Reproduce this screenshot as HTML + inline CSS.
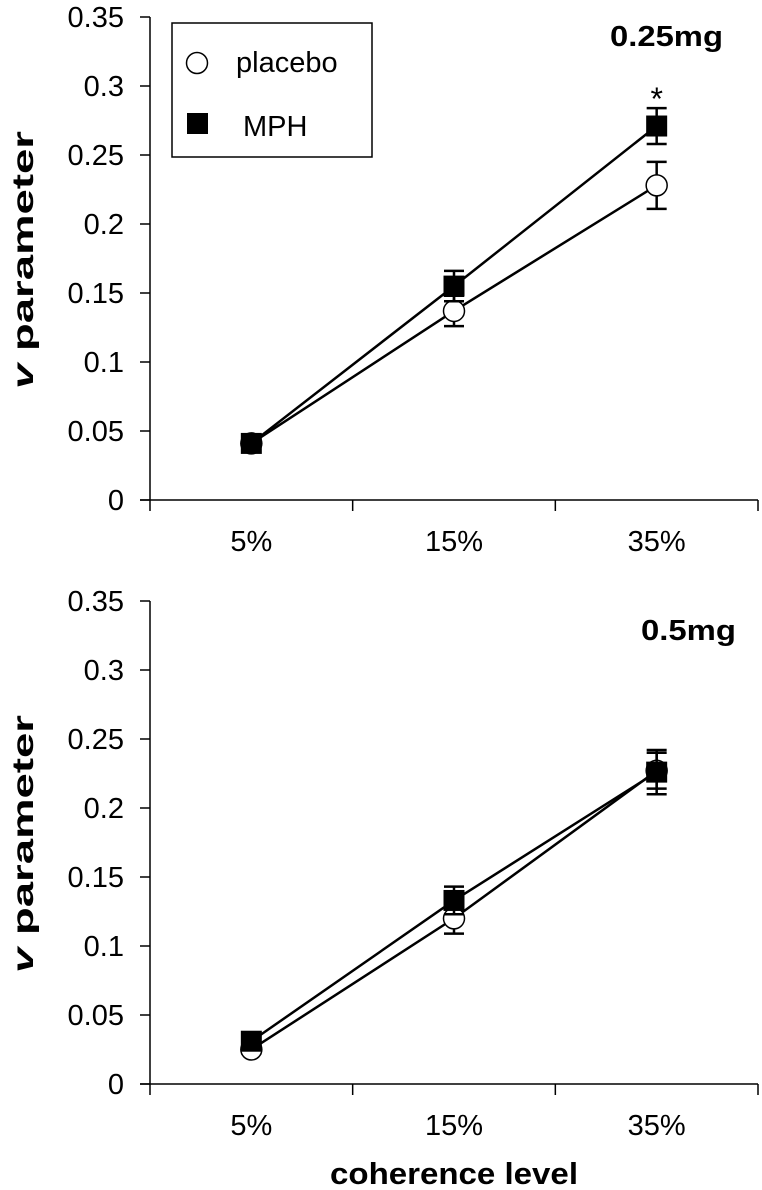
<!DOCTYPE html>
<html><head><meta charset="utf-8">
<style>
html,body{margin:0;padding:0;background:#fff;}
svg{display:block;font-family:"Liberation Sans",Arial,sans-serif;}
</style></head>
<body>
<svg id="chart" width="762" height="1190" viewBox="0 0 762 1190" xmlns="http://www.w3.org/2000/svg"></svg>
<script>
const categories = ["5%", "15%", "35%"];
const yTicks = [0, 0.05, 0.1, 0.15, 0.2, 0.25, 0.3, 0.35];
const yTickLabels = ["0", "0.05", "0.1", "0.15", "0.2", "0.25", "0.3", "0.35"];
// top panel (0.25mg)
const topPlacebo = [0.041, 0.137, 0.228];
const topPlaceboErr = [0.004, 0.011, 0.017];
const topMph = [0.041, 0.155, 0.271];
const topMphErr = [0.004, 0.011, 0.013];
// bottom panel (0.5mg)
const botPlacebo = [0.025, 0.120, 0.227];
const botPlaceboErr = [0.003, 0.011, 0.013];
const botMph = [0.031, 0.133, 0.226];
const botMphErr = [0.003, 0.010, 0.016];

const NS = "http://www.w3.org/2000/svg";
const svgEl = document.getElementById("chart");
function mk(tag, attrs, parent) {
  const e = document.createElementNS(NS, tag);
  for (const k in attrs) e.setAttribute(k, attrs[k]);
  (parent || svgEl).appendChild(e);
  return e;
}

function panel(cfg) {
  const g = mk("g", {});
  
  
  const x0 = 150, x1 = 758, y0 = cfg.y0, pxPerUnit = 1380;
  const yS = v => y0 - v * pxPerUnit;
  const band = (x1 - x0) / categories.length;
  const xS = i => x0 + band * (i + 0.5);
  const ya = mk("line", {x1: x0, y1: yS(0.35), x2: x0, y2: y0, stroke: "#000", "stroke-width": 1.5}, g);
  
  
  yTicks.forEach((t, i) => {
    mk("line", {x1: x0 - 10, y1: yS(t), x2: x0, y2: yS(t), stroke: "#000", "stroke-width": 1.5}, g);
    const tx = mk("text", {x: 124, y: yS(t) + 10, "text-anchor": "end", "font-size": 29}, g);
    tx.textContent = yTickLabels[i];
    
    
  });
  const xa = mk("line", {x1: x0 - 10, y1: y0, x2: x1, y2: y0, stroke: "#000", "stroke-width": 1.5}, g);
  
  
  for (let i = 0; i <= categories.length; i++) {
    const xx = x0 + band * i;
    mk("line", {x1: xx, y1: y0, x2: xx, y2: y0 + 11, stroke: "#000", "stroke-width": 1.5}, g);
  }
  categories.forEach((c, i) => {
    const tx = mk("text", {x: xS(i), y: y0 + 51, "text-anchor": "middle", "font-size": 29}, g);
    tx.textContent = c;
    
    
  });
  const yl = mk("text", {transform: `translate(33,${y0 - 240}) rotate(-90)`, "text-anchor": "middle", "font-size": 30, "font-weight": "bold", textLength: 258, lengthAdjust: "spacingAndGlyphs"}, g);
  yl.innerHTML = '<tspan font-style="italic">v</tspan> parameter';
  
  
  const dl = mk("text", {x: cfg.doseX, y: cfg.doseY, "text-anchor": "end", "font-size": 29, "font-weight": "bold", textLength: cfg.doseW, lengthAdjust: "spacingAndGlyphs"}, g);
  dl.textContent = cfg.dose;
  
  

  function series(vals, errs, kind) {
    const pts = vals.map((v, i) => xS(i) + "," + yS(v)).join(" ");
    const pl = mk("polyline", {points: pts, fill: "none", stroke: "#000", "stroke-width": 2.5}, g);
    
    
    vals.forEach((v, i) => {
      const cx = xS(i);
      const eb = mk("path", {d: `M${cx},${yS(v + errs[i])}V${yS(v - errs[i])}M${cx - 10},${yS(v + errs[i])}H${cx + 10}M${cx - 10},${yS(v - errs[i])}H${cx + 10}`, stroke: "#000", "stroke-width": 2.5, fill: "none"}, g);
      
      
    });
    vals.forEach((v, i) => {
      const cx = xS(i), cy = yS(v);
      let m;
      if (kind === "mph") m = mk("rect", {x: cx - 10.5, y: cy - 10.5, width: 21, height: 21, fill: "#000"}, g);
      else m = mk("circle", {cx: cx, cy: cy, r: 10.5, fill: "#fff", stroke: "#000", "stroke-width": 1.5}, g);
      
      
    });
  }
  series(cfg.pl, cfg.plE, "placebo");
  series(cfg.mph, cfg.mphE, "mph");
  return {xS, yS};
}

const topPanel = panel({name: "panel-0.25mg", y0: 500, dose: "0.25mg", doseX: 723, doseY: 46, doseW: 113, pl: topPlacebo, plE: topPlaceboErr, mph: topMph, mphE: topMphErr});
panel({name: "panel-0.5mg", y0: 1084, dose: "0.5mg", doseX: 736, doseY: 640, doseW: 95, pl: botPlacebo, plE: botPlaceboErr, mph: botMph, mphE: botMphErr});

const st = mk("text", {x: topPanel.xS(2), y: 110, "text-anchor": "middle", "font-size": 32}, svgEl);
st.textContent = "*";



const lg = mk("g", {});


mk("rect", {x: 172, y: 23, width: 200, height: 134, fill: "#fff", stroke: "#000", "stroke-width": 1.5}, lg);
const le1 = mk("circle", {cx: 197, cy: 63, r: 10.5, fill: "#fff", stroke: "#000", "stroke-width": 1.5}, lg);


const lt1 = mk("text", {x: 236, y: 72, "font-size": 29}, lg);
lt1.textContent = "placebo";


const le2 = mk("rect", {x: 187, y: 113, width: 21, height: 21, fill: "#000"}, lg);


const lt2 = mk("text", {x: 243, y: 136, "font-size": 29}, lg);
lt2.textContent = "MPH";



const xt = mk("text", {x: 454, y: 1184, "text-anchor": "middle", "font-size": 31, "font-weight": "bold", textLength: 248, lengthAdjust: "spacingAndGlyphs"}, svgEl);
xt.textContent = "coherence level";


</script>
</body></html>
